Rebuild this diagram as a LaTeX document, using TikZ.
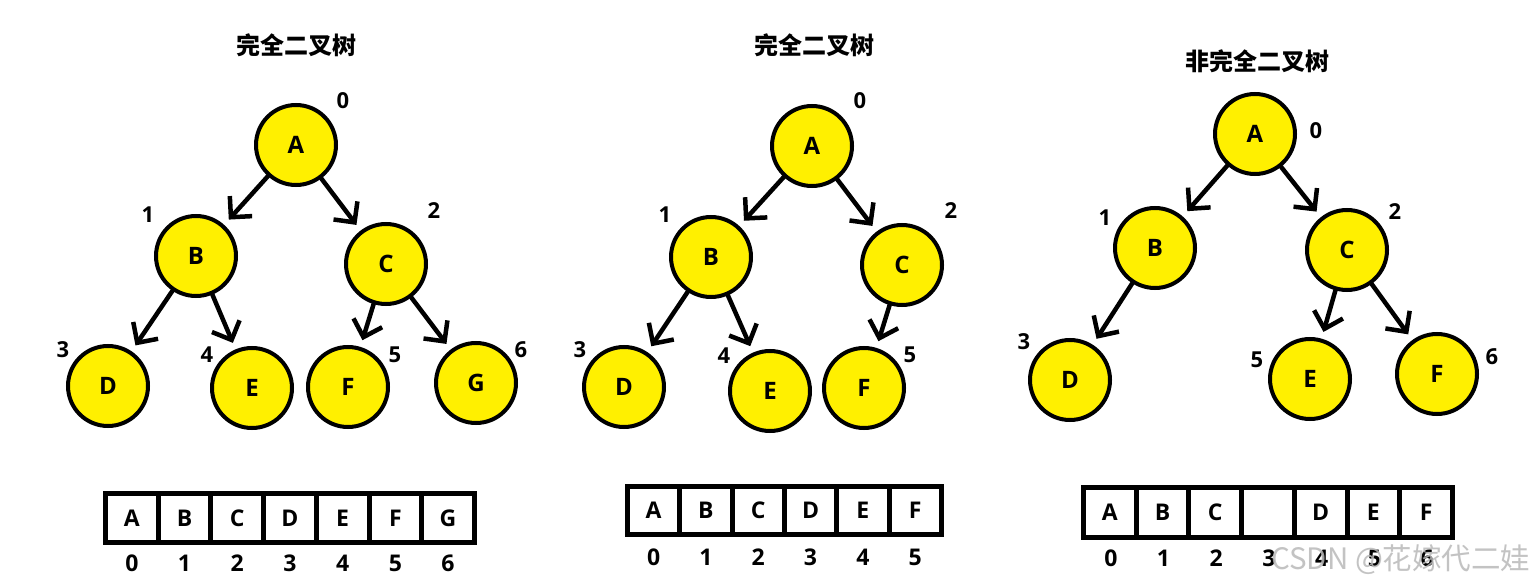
\documentclass[tikz,border=0pt]{standalone}
\usepackage{fontspec}
\setmainfont{Open Sans}
\newfontfamily\cjk{Noto Sans CJK SC}
\usetikzlibrary{arrows.meta}
\definecolor{nodeyellow}{RGB}{255,240,0}
\definecolor{wmgray}{RGB}{185,185,185}
\begin{document}
\begin{tikzpicture}[x=1pt,y=-1pt,
  tnode/.style={circle, draw=black, fill=nodeyellow, line width=4pt, minimum size=80pt, inner sep=0pt, font=\fontsize{24}{24}\selectfont\bfseries},
  lab/.style={font=\fontsize{22}{22}\selectfont\bfseries, inner sep=0pt},
  ttl/.style={font=\cjk\fontsize{24}{24}\selectfont\bfseries, inner sep=0pt},
  arr/.style={-{Straight Barb[length=15pt,width=30pt]}, line width=4.5pt, line cap=round, line join=round, shorten >=7pt},
  cellbox/.style={draw=black, line width=5pt, inner sep=0pt, outer sep=0pt, font=\fontsize{23}{23}\selectfont\bfseries},
  idx/.style={font=\fontsize{23}{23}\selectfont\bfseries, inner sep=0pt}
]
\useasboundingbox[fill=white] (0,0) rectangle (1534,588);

% ---------- Tree 1 ----------
\node[ttl] (t1) at (296,45) {完全二叉树};
\node[tnode] (a1) at (296,145) {A};
\node[tnode] (b1) at (196,256) {B};
\node[tnode] (c1) at (386,264) {C};
\node[tnode] (d1) at (108,386) {D};
\node[tnode] (e1) at (252,388) {E};
\node[tnode] (f1) at (348,387) {F};
\node[tnode] (g1) at (476,383) {G};
\node[lab] (l10) at (343,101) {0};
\node[lab] (l11) at (148,215) {1};
\node[lab] (l12) at (434,211) {2};
\node[lab] (l13) at (63,350) {3};
\node[lab] (l14) at (207,355) {4};
\node[lab] (l15) at (395,355) {5};
\node[lab] (l16) at (521,350) {6};
\draw[arr] (a1) -- (b1);
\draw[arr] (a1) -- (c1);
\draw[arr] (b1) -- (d1);
\draw[arr] (b1) -- (e1);
\draw[arr] (c1) -- (f1);
\draw[arr] (c1) -- (g1);

% ---------- Tree 2 ----------
\node[ttl] (t2) at (814,45) {完全二叉树};
\node[tnode] (a2) at (812,146) {A};
\node[tnode] (b2) at (711,257) {B};
\node[tnode] (c2) at (902,265) {C};
\node[tnode] (d2) at (624,387) {D};
\node[tnode] (e2) at (770,391) {E};
\node[tnode] (f2) at (864,388) {F};
\node[lab] (l20) at (860,101) {0};
\node[lab] (l21) at (665,215) {1};
\node[lab] (l22) at (951,211) {2};
\node[lab] (l23) at (580,350) {3};
\node[lab] (l24) at (724,356) {4};
\node[lab] (l25) at (910,355) {5};
\draw[arr] (a2) -- (b2);
\draw[arr] (a2) -- (c2);
\draw[arr] (b2) -- (d2);
\draw[arr] (b2) -- (e2);
\draw[arr] (c2) -- (f2);

% ---------- Tree 3 ----------
\node[ttl] (t3) at (1257,61) {非完全二叉树};
\node[tnode] (a3) at (1255,134) {A};
\node[tnode] (b3) at (1155,248) {B};
\node[tnode] (c3) at (1347,250) {C};
\node[tnode] (d3) at (1070,380) {D};
\node[tnode] (e3) at (1310,379) {E};
\node[tnode] (f3) at (1437,374) {F};
\node[lab] (l30) at (1316,131) {0};
\node[lab] (l31) at (1105,218) {1};
\node[lab] (l32) at (1395,212) {2};
\node[lab] (l33) at (1024,342) {3};
\node[lab] (l35) at (1257,360) {5};
\node[lab] (l36) at (1492,357) {6};
\draw[arr] (a3) -- (b3);
\draw[arr] (a3) -- (c3);
\draw[arr] (b3) -- (d3);
\draw[arr] (c3) -- (e3);
\draw[arr] (c3) -- (f3);

% ---------- Arrays ----------
\foreach \L [count=\i from 0] in {A,B,C,D,E,F,G} {
  \node[cellbox, minimum width=52.7pt, minimum height=49pt] (pa\i) at ({105.5+52.7*(\i+0.5)},518) {\L};
  \node[idx] (ia\i) at ({105.5+52.7*(\i+0.5)},563) {\i};
}
\foreach \L [count=\i from 0] in {A,B,C,D,E,F} {
  \node[cellbox, minimum width=52.3pt, minimum height=48pt] (pb\i) at ({627.5+52.3*(\i+0.5)},510.5) {\L};
  \node[idx] (ib\i) at ({627.5+52.3*(\i+0.5)},557) {\i};
}
\foreach \L [count=\i from 0] in {A,B,C,{},D,E,F} {
  \node[cellbox, minimum width=52.7pt, minimum height=50pt] (pc\i) at ({1083.5+52.7*(\i+0.5)},512.5) {\L};
  \node[idx] (ic\i) at ({1083.5+52.7*(\i+0.5)+1},558) {\i};
}

% ---------- Watermark ----------
\node[font=\cjk\fontsize{29.5}{29.5}\selectfont, text=wmgray, opacity=0.85, inner sep=0pt, anchor=west] (wm) at (1271,560) {CSDN @花嫁代二娃};
\end{tikzpicture}
\end{document}
